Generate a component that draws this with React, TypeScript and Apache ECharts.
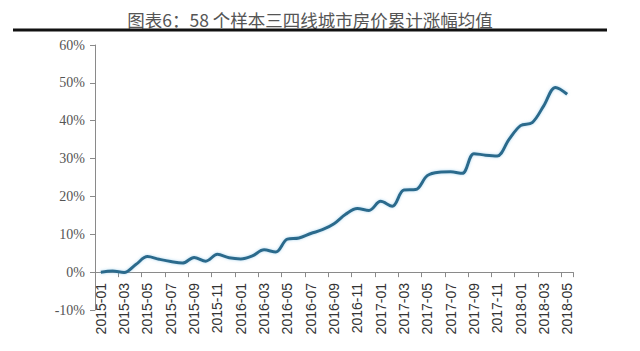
import React, { useEffect, useRef } from "react";
import * as echarts from "echarts";

const TITLE = "图表6：58 个样本三四线城市房价累计涨幅均值";

const months: string[] = [
  "2015-01", "2015-02", "2015-03", "2015-04", "2015-05", "2015-06", "2015-07", "2015-08",
  "2015-09", "2015-10", "2015-11", "2015-12", "2016-01", "2016-02", "2016-03", "2016-04",
  "2016-05", "2016-06", "2016-07", "2016-08", "2016-09", "2016-10", "2016-11", "2016-12",
  "2017-01", "2017-02", "2017-03", "2017-04", "2017-05", "2017-06", "2017-07", "2017-08",
  "2017-09", "2017-10", "2017-11", "2017-12", "2018-01", "2018-02", "2018-03", "2018-04",
  "2018-05",
];

const cumulativeRise: number[] = [
  0.0, 0.3, -0.1, 2.0, 4.1, 3.4, 2.8, 2.4,
  3.9, 2.9, 4.7, 3.8, 3.5, 4.3, 5.9, 5.3,
  8.7, 9.0, 10.2, 11.2, 12.8, 15.3, 16.8, 16.3,
  18.7, 17.4, 21.7, 21.8, 25.5, 26.4, 26.5, 26.1,
  31.3, 30.9, 30.7, 35.0, 38.7, 39.5, 44.0, 48.8,
  47.0,
];

const yMin = -10;
const yMax = 60;
const yStep = 10;

export default function App() {
  const ref = useRef<HTMLDivElement>(null);

  useEffect(() => {
    document.body.style.margin = "0";
    if (!ref.current) return;
    const chart = echarts.init(ref.current, null, { renderer: "svg" });
    chart.setOption({
      animation: false,
      backgroundColor: "#ffffff",
      grid: {
        left: 95,
        right: 67,
        top: 45,
        bottom: 41,
        containLabel: false,
        outerBoundsMode: "none",
      },
      graphic: [
        {
          type: "text",
          x: 310,
          y: 19,
          style: {
            text: TITLE,
            fill: "#555555",
            font: '17.5px "Noto Sans CJK SC", sans-serif',
            textAlign: "center",
            textVerticalAlign: "middle",
          },
        },
        {
          type: "rect",
          shape: { x: 13, y: 28.5, width: 594, height: 3 },
          style: { fill: "#111111" },
        },
      ],
      xAxis: {
        type: "category",
        data: months,
        boundaryGap: true,
        axisLine: { onZero: true, lineStyle: { color: "#8a8a8a", width: 1 } },
        axisTick: { show: true, interval: 1, length: 5, lineStyle: { color: "#8a8a8a" } },
        axisLabel: {
          interval: 1,
          rotate: 90,
          margin: -27,
          color: "#333333",
          fontFamily: '"Liberation Sans", Arial, sans-serif',
          fontSize: 14,
        },
        splitLine: { show: false },
      },
      yAxis: {
        type: "value",
        min: yMin,
        max: yMax,
        interval: yStep,
        axisLine: { show: true, lineStyle: { color: "#8a8a8a", width: 1 } },
        axisTick: { show: true, length: 5, lineStyle: { color: "#8a8a8a" } },
        axisLabel: {
          formatter: "{value}%",
          margin: 10,
          color: "#555555",
          fontFamily: '"Liberation Serif", "Times New Roman", serif',
          fontSize: 14,
        },
        splitLine: { show: false },
      },
      series: [
        {
          type: "line",
          data: cumulativeRise,
          smooth: 0.35,
          symbol: "none",
          lineStyle: {
            color: "#2c6a8c",
            width: 3,
            shadowColor: "rgba(120,190,230,0.6)",
            shadowBlur: 3,
          },
        },
      ],
    });
    return () => chart.dispose();
  }, []);

  return <div ref={ref} style={{ width: 640, height: 351 }} />;
}
